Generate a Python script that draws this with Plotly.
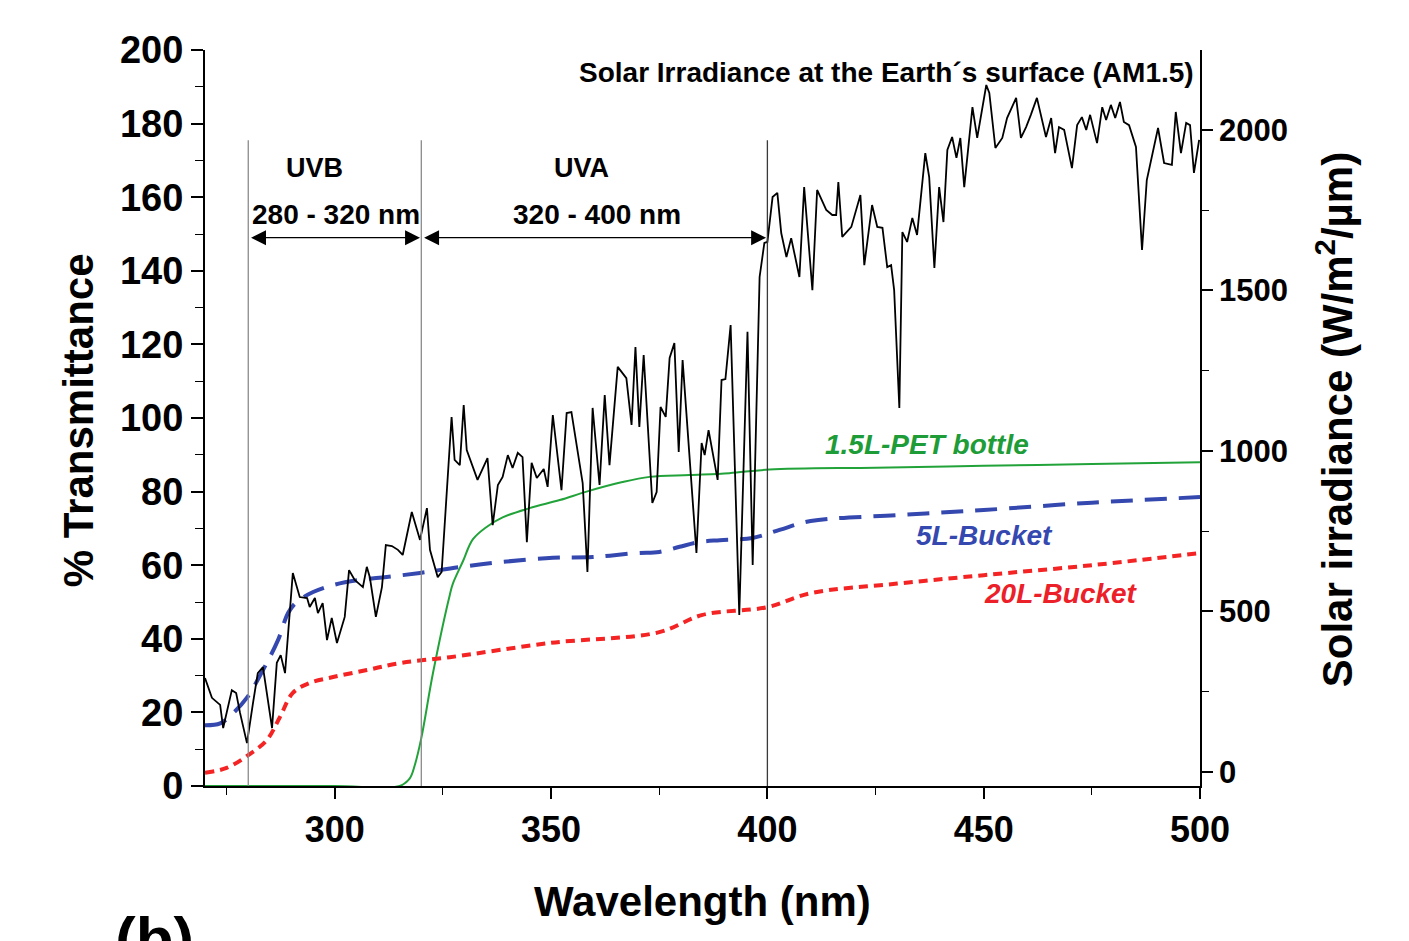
import plotly.graph_objects as go

# ---------------- data ----------------
# Solar irradiance (AM1.5), right axis
solar_nm = [270.0, 271.6, 273.5, 274.2, 276.2, 277.2, 278.1, 279.7, 281.1, 282.2, 283.4, 285.5, 286.6, 287.5, 288.5,
            289.6, 290.3, 291.9, 293.6, 294.2, 295.4, 296.1, 297.2, 298.2, 299.3, 300.5, 302.3, 303.3, 304.6, 306.5,
            307.4, 308.1, 309.5, 310.9, 311.8, 313.2, 314.6, 315.7, 317.8, 319.7, 321.3, 322.0, 323.8, 324.7, 327.0,
            327.7, 328.9, 329.8, 330.5, 333.0, 335.3, 336.5, 337.7, 338.8, 340.0, 341.1, 342.3, 343.4, 344.4, 345.5,
            346.7, 348.3, 349.2, 350.4, 352.4, 353.6, 354.7, 357.3, 358.4, 359.6, 360.7, 361.2, 362.4, 363.5, 365.4,
            367.4, 368.6, 369.5, 370.4, 371.4, 373.4, 374.4, 375.3, 376.5, 377.4, 378.5, 379.5, 380.4, 383.6, 384.8,
            385.5, 386.4, 388.5, 389.4, 390.3, 391.5, 393.5, 395.4, 396.6, 398.2, 399.3, 400.0, 401.2, 402.3, 403.2,
            404.4, 405.5, 407.4, 408.5, 410.4, 411.5, 413.6, 415.0, 415.9, 416.4, 417.3, 419.4, 421.5, 422.4, 424.2,
            425.4, 426.6, 427.7, 428.6, 429.3, 430.5, 431.2, 432.3, 433.5, 434.6, 436.5, 437.4, 438.6, 439.7, 440.7,
            441.6, 442.7, 443.7, 444.6, 445.5, 447.4, 448.5, 450.6, 451.3, 452.7, 454.3, 455.4, 457.5, 458.6, 459.8,
            460.9, 462.3, 464.4, 465.6, 466.5, 467.4, 468.6, 470.4, 471.6, 472.7, 473.7, 474.6, 476.2, 477.4, 478.3,
            479.4, 480.4, 481.5, 482.4, 483.6, 485.2, 486.6, 487.7, 488.9, 490.3, 491.7, 493.5, 494.4, 495.6, 496.8,
            497.7, 498.6, 499.8]
solar_irr = [293, 231, 209, 137, 255, 246, 184, 90, 215, 308, 327, 137, 340, 364, 308,
             483, 620, 545, 542, 514, 542, 495, 526, 411, 480, 402, 483, 629, 598, 576,
             639, 607, 483, 576, 707, 704, 692, 676, 810, 723, 822, 692, 607, 623, 1106,
             972, 956, 1143, 1003, 910, 978, 769, 894, 919, 987, 947, 994, 981, 716, 963,
             916, 944, 888, 1112, 878, 1118, 1121, 900, 623, 1134, 981, 894, 1174, 956, 1262,
             1227, 1081, 1324, 1075, 1299, 838, 872, 1137, 1106, 1290, 1336, 997, 1283, 682, 1025,
             987, 1065, 910, 1221, 1224, 1392, 489, 1371, 645, 1542, 1648, 1651, 1791, 1804, 1679,
             1604, 1663, 1542, 1822, 1501, 1813, 1751, 1735, 1735, 1838, 1667, 1698, 1797, 1579, 1766,
             1698, 1695, 1573, 1579, 1501, 1134, 1682, 1651, 1726, 1673, 1928, 1853, 1570, 1822, 1713,
             1938, 1978, 1913, 1975, 1822, 2071, 1975, 2140, 2115, 1944, 1975, 2037, 2100, 1975, 2009,
             2047, 2100, 1978, 2037, 1928, 2009, 2000, 1881, 2015, 2040, 2000, 2047, 1959, 2071, 2031,
             2078, 2037, 2087, 2025, 2015, 1947, 1626, 1844, 1916, 2006, 1897, 1891, 2056, 1928, 2022,
             2015, 1866, 1969]

# % Transmittance, left axis
pet_nm = [270, 300, 315, 317.3, 318.5, 320, 322.7, 326.6, 327.3, 329.6, 331.9, 335.1, 338.8, 345, 352, 358.2,
          366.5, 372.8, 382, 391.2, 400.5, 425, 450, 475, 500]
pet_t = [0, 0, 0, 2, 5.7, 13, 30.7, 52, 55, 61, 67, 70.4, 73, 75.5, 77.7, 80,
         82.6, 84, 84.5, 85, 86, 86.5, 87, 87.5, 88]

b5_nm = [270, 273.5, 276.5, 279.7, 283.4, 286.9, 289.2, 291.2, 295, 299.6, 305.8, 312, 319.7, 328.9, 338.8,
         350.4, 359.6, 369.8, 375, 379.7, 384.3, 389, 396.6, 402.8, 410, 430, 450, 475, 500]
b5_t = [16.5, 17, 19.8, 24, 31.5, 39.7, 47, 50, 52.7, 54.6, 56, 56.8, 57.9, 59.5, 60.9,
        62, 62.2, 63.3, 63.6, 65, 66.3, 66.8, 67.4, 69.6, 72, 73.6, 75, 77, 78.5]

b20_nm = [270, 275, 280, 284.3, 287.3, 290.3, 294.2, 299.6, 307.4, 315, 326.6, 350, 375, 385, 400, 410,
          430, 450, 475, 500]
b20_t = [3.6, 4.9, 8.4, 12.5, 18.7, 25.3, 28, 29.6, 31.5, 33.4, 35, 38.9, 41.8, 46.5, 48.6, 52.4,
         55, 57.3, 60, 63.3]

band_edges = [280, 320, 400]
band_names = ["UVB", "UVA"]
band_ranges = ["280 - 320 nm", "320 - 400 nm"]

x_ticks = [300, 350, 400, 450, 500]
y_ticks = [0, 20, 40, 60, 80, 100, 120, 140, 160, 180, 200]
y2_ticks = [0, 500, 1000, 1500, 2000]

# ---------------- figure ----------------
FONT = "Liberation Sans, Arial, sans-serif"
fig = go.Figure()

fig.add_trace(go.Scatter(x=solar_nm, y=solar_irr, yaxis="y2", mode="lines",
                         line=dict(color="black", width=1.8), name="Solar"))
fig.add_trace(go.Scatter(x=pet_nm, y=pet_t, mode="lines", line=dict(color="#22a33a", width=2, shape="spline"),
                         name="PET"))
fig.add_trace(go.Scatter(x=b5_nm, y=b5_t, mode="lines",
                         line=dict(color="#3448b0", width=4, dash="22px,12px", shape="spline"), name="5L"))
fig.add_trace(go.Scatter(x=b20_nm, y=b20_t, mode="lines",
                         line=dict(color="#f42424", width=4, dash="9px,6px", shape="spline"), name="20L"))

# vertical band lines
for i, e in enumerate(band_edges):
    fig.add_shape(type="line", x0=e, x1=e, y0=0, y1=175.5, xref="x", yref="y",
                  line=dict(color="#3a3a3a" if e == 400 else "#8a8a8a", width=1.3))

# double arrows and band labels
for i in range(2):
    a, b = band_edges[i], band_edges[i + 1]
    fig.add_annotation(x=b - 0.3, y=149, ax=a + 0.3, ay=149, xref="x", yref="y", axref="x", ayref="y",
                       text="", showarrow=True, arrowhead=2, startarrowhead=2, arrowside="end+start",
                       arrowsize=2.3, startarrowsize=2.3, arrowwidth=1.3, arrowcolor="black")
    fig.add_annotation(x=[295.4, 357.1][i], y=167.9, xref="x", yref="y", text=band_names[i], showarrow=False,
                       font=dict(family=FONT, size=27, color="black", weight="bold"))
    fig.add_annotation(x=[300.3, 360.5][i], y=155.2, xref="x", yref="y", text=band_ranges[i], showarrow=False,
                       font=dict(family=FONT, size=28, color="black", weight="bold"))

fig.add_annotation(x=499.1, y=193.8, xref="x", yref="y", xanchor="right",
                   text="Solar Irradiance at the Earth´s surface (AM1.5)", showarrow=False,
                   font=dict(family=FONT, size=28, color="black", weight="bold"))

# series labels
fig.add_annotation(x=437.0, y=92.7, xref="x", yref="y", text="1.5L-PET bottle", showarrow=False,
                   font=dict(family=FONT, size=28, color="#1d9c38", weight="bold", style="italic"))
fig.add_annotation(x=450.1, y=68.2, xref="x", yref="y", text="5L-Bucket", showarrow=False,
                   font=dict(family=FONT, size=28, color="#3448b0", weight="bold", style="italic"))
fig.add_annotation(x=467.9, y=52.4, xref="x", yref="y", text="20L-Bucket", showarrow=False,
                   font=dict(family=FONT, size=28, color="#ec2028", weight="bold", style="italic"))

# axis titles
fig.add_annotation(x=-0.1276, y=0.497, xref="paper", yref="paper", xanchor="center", yanchor="middle",
                   text="% Transmittance", textangle=-90,
                   showarrow=False, font=dict(family=FONT, size=42, color="black", weight="bold"))
fig.add_annotation(x=0.5005, y=-0.1576, xref="paper", yref="paper", xanchor="center", yanchor="middle",
                   text="Wavelength (nm)",
                   showarrow=False, font=dict(family=FONT, size=42, color="black", weight="bold"))
fig.add_annotation(x=1.1357, y=0.497, xref="paper", yref="paper", xanchor="center", yanchor="middle",
                   text="Solar irradiance (W/m<sup>2</sup>/µm)",
                   textangle=-90, showarrow=False, font=dict(family=FONT, size=42, color="black", weight="bold"))
fig.add_annotation(x=-0.0503, y=-0.158, xref="paper", yref="paper", xanchor="center", yanchor="top", text="(b)",
                   showarrow=False, font=dict(family=FONT, size=62, color="black", weight="bold"))

fig.update_layout(
    width=1409, height=941,
    margin=dict(l=197, r=217, t=42, b=163),
    paper_bgcolor="white", plot_bgcolor="white",
    showlegend=False,
    xaxis=dict(range=[270, 500], tickvals=x_ticks, showgrid=False, zeroline=False,
               showline=True, linecolor="black", linewidth=2, ticks="outside", ticklen=11, tickwidth=1.5,
               tickcolor="black",
               minor=dict(dtick=25, tick0=0, ticks="outside", ticklen=7, tickwidth=1.3, tickcolor="black"),
               tickfont=dict(family=FONT, size=36, color="black", weight="bold")),
    yaxis=dict(range=[0, 200], tickvals=y_ticks, showgrid=False, zeroline=False,
               showline=True, linecolor="black", linewidth=2, ticks="outside", ticklen=12, tickwidth=1.5,
               tickcolor="black",
               minor=dict(dtick=10, tick0=0, ticks="outside", ticklen=8, tickwidth=1.3, tickcolor="black"),
               tickfont=dict(family=FONT, size=38, color="black", weight="bold")),
    yaxis2=dict(range=[-43.6, 2249], overlaying="y", side="right", tickvals=y2_ticks, showgrid=False,
                zeroline=False, showline=True, linecolor="black", linewidth=1.5, ticks="outside", ticklen=11,
                tickwidth=1.5, tickcolor="black",
                minor=dict(dtick=250, tick0=0, ticks="outside", ticklen=7, tickwidth=1.3, tickcolor="black"),
                tickfont=dict(family=FONT, size=31, color="black", weight="bold")),
)

fig.write_html("out.html")
